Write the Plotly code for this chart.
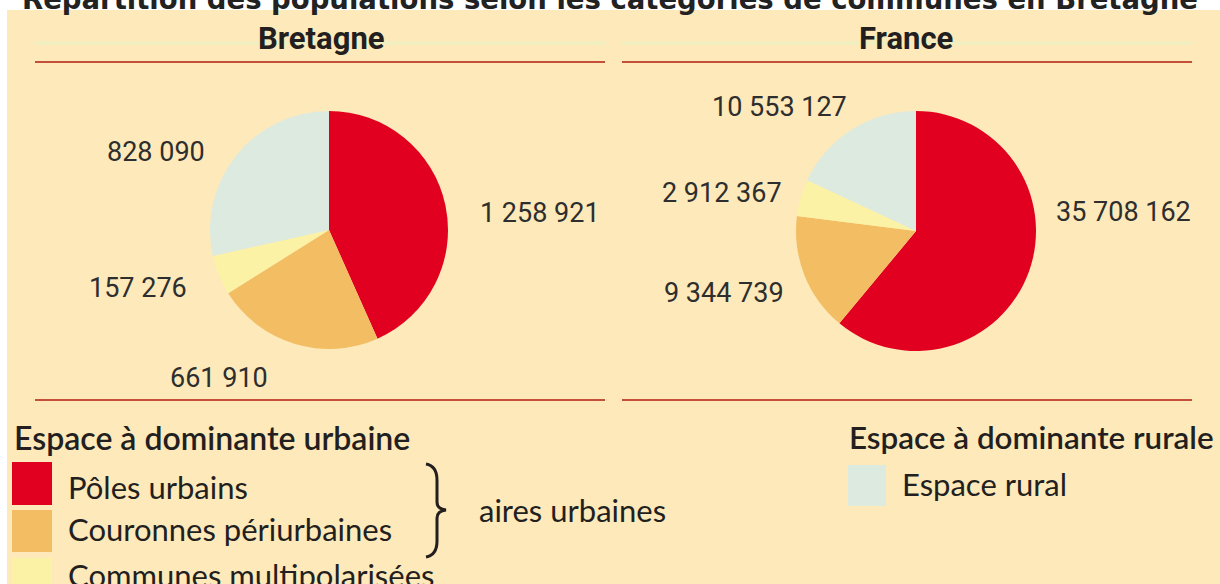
import plotly.graph_objects as go

# ---- data ----
title_text = "Répartition des populations selon les catégories de communes en Bretagne"
regions = ["Bretagne", "France"]
categories = ["Pôles urbains", "Couronnes périurbaines", "Communes multipolarisées", "Espace rural"]
bretagne_values = [1258921, 661910, 157276, 828090]
france_values = [35708162, 9344739, 2912367, 10553127]
legend_urban_title = "Espace à dominante urbaine"
legend_rural_title = "Espace à dominante rurale"
brace_label = "aires urbaines"

# ---- style ----
W, H = 1220, 584
slice_colors = ["#E1001F", "#F3BE63", "#FBF2A6", "#DCEAE0"]
bg_cream = "#FDE9B9"
line_red = "#C4503A"
text_dark = "#231F20"


def px(x):
    return x / W


def py(y):
    return 1 - y / H


def fmt(v):
    return f"{v:,}".replace(",", " ")


fig = go.Figure()

# pie domains (pixel boxes)
pie_boxes = {"Bretagne": (210, 448, 111, 349), "France": (795, 1037, 111, 351)}
# label anchor positions (pixel centres) per category
label_pos = {
    "Bretagne": [(540, 213), (219, 378), (138, 288), (156, 152)],
    "France": [(1123, 212), (724, 293), (722, 193), (779, 107)],
}
series = {"Bretagne": bretagne_values, "France": france_values}

for reg in regions:
    x0, x1, y0, y1 = pie_boxes[reg]
    fig.add_trace(go.Pie(
        labels=categories,
        values=series[reg],
        sort=False,
        direction="clockwise",
        rotation=0,
        marker=dict(colors=slice_colors, line=dict(width=0)),
        textinfo="none",
        hoverinfo="label+value",
        showlegend=False,
        domain=dict(x=[px(x0), px(x1)], y=[py(y1), py(y0)]),
    ))
    for v, (lx, ly) in zip(series[reg], label_pos[reg]):
        fig.add_annotation(x=px(lx), y=py(ly), xref="paper", yref="paper",
                           text=fmt(v), showarrow=False, xanchor="center", yanchor="middle",
                           font=dict(family="Roboto", size=27, color="#2e2e2e"))

shapes = []
# cream background panel
shapes.append(dict(type="rect", xref="paper", yref="paper", x0=px(7), x1=px(1221), y0=py(585), y1=py(10),
                   fillcolor=bg_cream, line=dict(width=0), layer="below"))
# header lines
for (a, b) in [(35, 605), (622, 1192)]:
    shapes.append(dict(type="line", xref="paper", yref="paper", x0=px(a), x1=px(b), y0=py(43), y1=py(43),
                       line=dict(color="#EEF0C2", width=3), layer="below"))
    shapes.append(dict(type="line", xref="paper", yref="paper", x0=px(a), x1=px(b), y0=py(62), y1=py(62),
                       line=dict(color=line_red, width=2), layer="below"))
    shapes.append(dict(type="line", xref="paper", yref="paper", x0=px(a), x1=px(b), y0=py(400), y1=py(400),
                       line=dict(color=line_red, width=2), layer="below"))

# legend swatches
swatches = [(12, 52, 462, 505, slice_colors[0]), (12, 52, 510, 552, slice_colors[1]),
            (12, 52, 558, 600, slice_colors[2]), (848, 886, 465, 506, slice_colors[3])]
for a, b, c, d, col in swatches:
    shapes.append(dict(type="rect", xref="paper", yref="paper", x0=px(a), x1=px(b), y0=py(d), y1=py(c),
                       fillcolor=col, line=dict(width=0)))

# brace
pts = [(426, 464), (437, 466), (437, 480), (437, 502), (446, 510), (437, 518), (437, 541), (437, 555), (426, 557)]
p = [(px(x), py(y)) for x, y in pts]
path = (f"M {p[0][0]},{p[0][1]} Q {p[1][0]},{p[1][1]} {p[2][0]},{p[2][1]} "
        f"L {p[3][0]},{p[3][1]} Q {p[3][0]},{py(509)} {p[4][0]},{p[4][1]} "
        f"Q {p[5][0]},{py(511)} {p[5][0]},{p[5][1]} L {p[6][0]},{p[6][1]} "
        f"Q {p[7][0]},{p[7][1]} {p[8][0]},{p[8][1]}")
shapes.append(dict(type="path", xref="paper", yref="paper", path=path, line=dict(color=text_dark, width=3)))

fig.update_layout(shapes=shapes)

# title (cut at top in the reference)
fig.add_annotation(x=px(610), y=py(-1), xref="paper", yref="paper", text=f"<b>{title_text}</b>",
                   showarrow=False, xanchor="center", yanchor="middle",
                   font=dict(family="DejaVu Sans", size=27.5, color="#222222"))

# region headers
for reg, cx in zip(regions, [321, 906]):
    fig.add_annotation(x=px(cx), y=py(38), xref="paper", yref="paper", text=f"<b>{reg}</b>",
                       showarrow=False, xanchor="center", yanchor="middle",
                       font=dict(family="Roboto", size=31, color=text_dark))

# legend texts
legend_font = dict(family="Lato", size=31, color=text_dark)
for txt, xx, sz in [(legend_urban_title, 12, 32), (legend_rural_title, 847, 31.4)]:
    fig.add_annotation(x=px(xx), y=py(437), xref="paper", yref="paper", text=txt,
                       showarrow=False, xanchor="left", yanchor="middle",
                       font=dict(family="Lato", size=sz, color=text_dark, weight=600))
for cat, ypx in zip(categories[:3], [487, 529, 575]):
    fig.add_annotation(x=px(66), y=py(ypx), xref="paper", yref="paper", text=cat,
                       showarrow=False, xanchor="left", yanchor="middle", font=legend_font)
fig.add_annotation(x=px(900), y=py(484), xref="paper", yref="paper", text=categories[3],
                   showarrow=False, xanchor="left", yanchor="middle", font=legend_font)
fig.add_annotation(x=px(477), y=py(510), xref="paper", yref="paper", text=brace_label,
                   showarrow=False, xanchor="left", yanchor="middle", font=legend_font)

fig.update_layout(width=W, height=H, margin=dict(l=0, r=0, t=0, b=0),
                  paper_bgcolor="white", plot_bgcolor="white")

fig.write_html("out.html", config={"displayModeBar": False},
               post_script="document.body.style.margin='0';document.body.style.overflow='hidden';")
